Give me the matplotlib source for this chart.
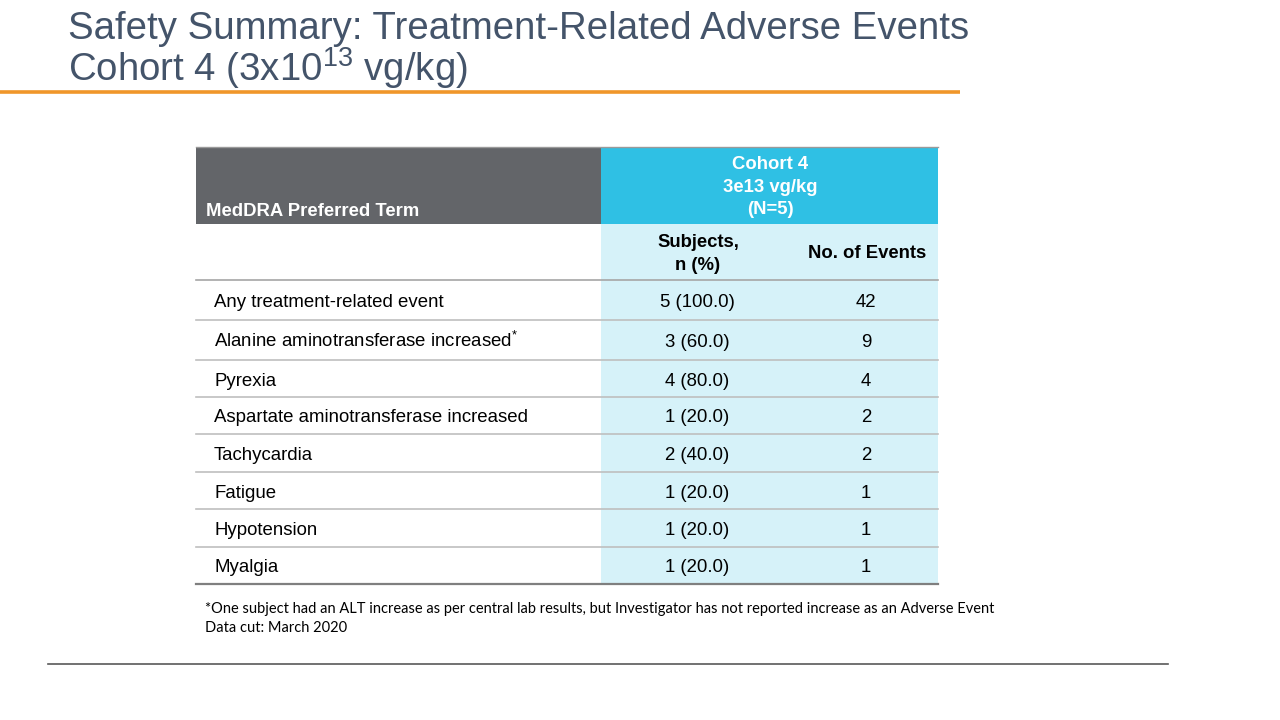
import matplotlib
matplotlib.use("Agg")
import matplotlib.pyplot as plt
from matplotlib.patches import Rectangle

plt.rcParams["font.family"] = ["Liberation Sans", "DejaVu Sans"]
plt.rcParams["mathtext.fontset"] = "custom"
plt.rcParams["mathtext.rm"] = "Liberation Sans"
plt.rcParams["mathtext.it"] = "Liberation Sans"
plt.rcParams["mathtext.bf"] = "Liberation Sans:bold"

# table data
terms = ["Any treatment-related event",
         r"Alanine aminotransferase increased$^{*}$",
         "Pyrexia",
         "Aspartate aminotransferase increased",
         "Tachycardia",
         "Fatigue",
         "Hypotension",
         "Myalgia"]
subjects = ["5 (100.0)", "3 (60.0)", "4 (80.0)", "1 (20.0)",
            "2 (40.0)", "1 (20.0)", "1 (20.0)", "1 (20.0)"]
events = [42, 9, 4, 2, 2, 1, 1, 1]

title_1 = "Safety Summary: Treatment-Related Adverse Events"
title_2 = r"Cohort 4 (3x10$^{13}$ vg/kg)"
footnotes = ["*One subject had an ALT increase as per central lab results, but Investigator has not reported increase as an Adverse Event",
             "Data cut: March 2020"]

# layout (pixels)
row_h = [40, 40, 37, 37, 38, 37, 38, 37]
x0, x1, x2 = 196, 601, 938
y_head, y_sub, y_body = 147, 224, 280

fig = plt.figure(figsize=(12.8, 7.2), dpi=100)
ax = fig.add_axes([0, 0, 1, 1])
ax.set_xlim(0, 1280)
ax.set_ylim(720, 0)
ax.axis("off")

title_col = "#44546a"
ax.text(68, 39, title_1, fontsize=27.6, color=title_col, va="baseline", ha="left")
ax.text(68, 81, title_2, fontsize=27.6, color=title_col, va="baseline", ha="left")
ax.plot([0, 960], [92, 92], color="#f0962a", lw=2.6, solid_capstyle="butt")

# header blocks
ax.add_patch(Rectangle((x0, y_head), x1 - x0, y_sub - y_head, color="#636569", lw=0))
ax.add_patch(Rectangle((x1, y_head), x2 - x1, y_sub - y_head, color="#2fc0e4", lw=0))
y_end = y_body + sum(row_h)
ax.add_patch(Rectangle((x1, y_sub), x2 - x1, y_end - y_sub, color="#d6f2f9", lw=0))
ax.plot([x0, x2], [y_head, y_head], color="#9a9a9a", lw=1)

hs = 13.3
ax.text(206, 212, "MedDRA Preferred Term", fontsize=hs, weight="bold",
        color="white", va="center", ha="left")
ax.text(770, 187, "Cohort 4\n3e13 vg/kg\n(N=5)", fontsize=hs, weight="bold",
        color="white", va="center", ha="center", linespacing=1.42)
ax.text(698, 254, "Subjects,\nn (%)", fontsize=hs, weight="bold",
        color="black", va="center", ha="center", linespacing=1.4)
ax.text(926, 253, "No. of Events", fontsize=hs, weight="bold",
        color="black", va="center", ha="right")

ax.plot([x0, x2], [y_body, y_body], color="#a6a6a6", lw=1.2)

fs = 13.4
y = y_body
for i, (t, s, e) in enumerate(zip(terms, subjects, events)):
    h = row_h[i]
    base = y + h / 2 + 7
    ax.text(214, base, t, fontsize=fs, color="black", va="baseline", ha="left")
    ax.text(697, base, s, fontsize=fs, color="black", va="baseline", ha="center")
    ax.text(866, base, str(e), fontsize=fs, color="black", va="baseline", ha="center")
    y += h
    last = i == len(terms) - 1
    ax.plot([x0, x2], [y, y], color="#7f7f7f" if last else "#bfbfbf",
            lw=1.6 if last else 1.2)

ax.text(205, 609, footnotes[0], fontsize=10.5, family=["Lato", "DejaVu Sans"],
        color="black", va="center", ha="left")
ax.text(205, 628, footnotes[1], fontsize=10.5, family=["Lato", "DejaVu Sans"],
        color="black", va="center", ha="left")

ax.plot([48, 1168], [664, 664], color="#595959", lw=1.2)

fig.savefig("out.png", dpi=100)
